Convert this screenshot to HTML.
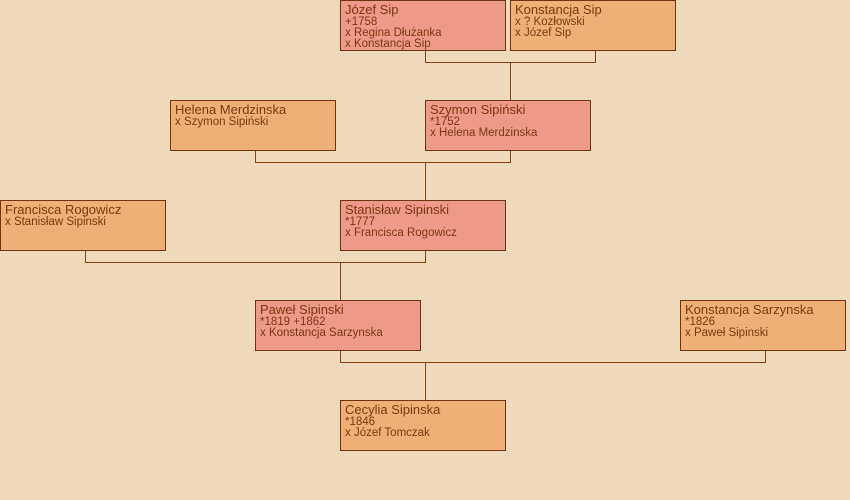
<!DOCTYPE html>
<html><head><meta charset="utf-8"><style>
html,body{margin:0;padding:0;background:#efd9bb;}
svg{display:block;}
text{font-family:"Liberation Sans",sans-serif;fill:#7a3a10;}
.n{font-size:13px;}
.s{font-size:11.5px;}
</style></head><body>
<svg width="850" height="500" xmlns="http://www.w3.org/2000/svg">
<rect width="850" height="500" fill="#efd9bb"/>
<g stroke="#8b3f10" stroke-width="1" fill="none">
<path d="M425.5 50 V62.5 H595.5 V50 M510.5 62.5 V100"/>
<path d="M255.5 150 V162.5 H510.5 V150 M425.5 162.5 V200"/>
<path d="M85.5 250 V262.5 H425.5 V250 M340.5 262.5 V300"/>
<path d="M340.5 350 V362.5 H765.5 V350 M425.5 362.5 V400"/>
</g>
<g stroke="#6e3510" stroke-width="1">
<rect x="340.5" y="0.5" width="165" height="50" fill="#ee9a88"/>
<rect x="510.5" y="0.5" width="165" height="50" fill="#eeb077"/>
<rect x="170.5" y="100.5" width="165" height="50" fill="#eeb077"/>
<rect x="425.5" y="100.5" width="165" height="50" fill="#ee9a88"/>
<rect x="0.5" y="200.5" width="165" height="50" fill="#eeb077"/>
<rect x="340.5" y="200.5" width="165" height="50" fill="#ee9a88"/>
<rect x="255.5" y="300.5" width="165" height="50" fill="#ee9a88"/>
<rect x="680.5" y="300.5" width="165" height="50" fill="#eeb077"/>
<rect x="340.5" y="400.5" width="165" height="50" fill="#eeb077"/>
</g>
<text class="n" x="345" y="14">Józef Sip</text>
<text class="s" x="345" y="25">+1758</text>
<text class="s" x="345" y="36">x Regina Dłużanka</text>
<text class="s" x="345" y="47">x Konstancja Sip</text>

<text class="n" x="515" y="14">Konstancja Sip</text>
<text class="s" x="515" y="25">x ? Kozłowski</text>
<text class="s" x="515" y="36">x Józef Sip</text>

<text class="n" x="175" y="114">Helena Merdzinska</text>
<text class="s" x="175" y="125">x Szymon Sipiński</text>

<text class="n" x="430" y="114">Szymon Sipiński</text>
<text class="s" x="430" y="125">*1752</text>
<text class="s" x="430" y="136">x Helena Merdzinska</text>

<text class="n" x="5" y="214">Francisca Rogowicz</text>
<text class="s" x="5" y="225">x Stanisław Sipinski</text>

<text class="n" x="345" y="214">Stanisław Sipinski</text>
<text class="s" x="345" y="225">*1777</text>
<text class="s" x="345" y="236">x Francisca Rogowicz</text>

<text class="n" x="260" y="314">Paweł Sipinski</text>
<text class="s" x="260" y="325">*1819 +1862</text>
<text class="s" x="260" y="336">x Konstancja Sarzynska</text>

<text class="n" x="685" y="314">Konstancja Sarzynska</text>
<text class="s" x="685" y="325">*1826</text>
<text class="s" x="685" y="336">x Paweł Sipinski</text>

<text class="n" x="345" y="414">Cecylia Sipinska</text>
<text class="s" x="345" y="425">*1846</text>
<text class="s" x="345" y="436">x Józef Tomczak</text>
</svg>
</body></html>
